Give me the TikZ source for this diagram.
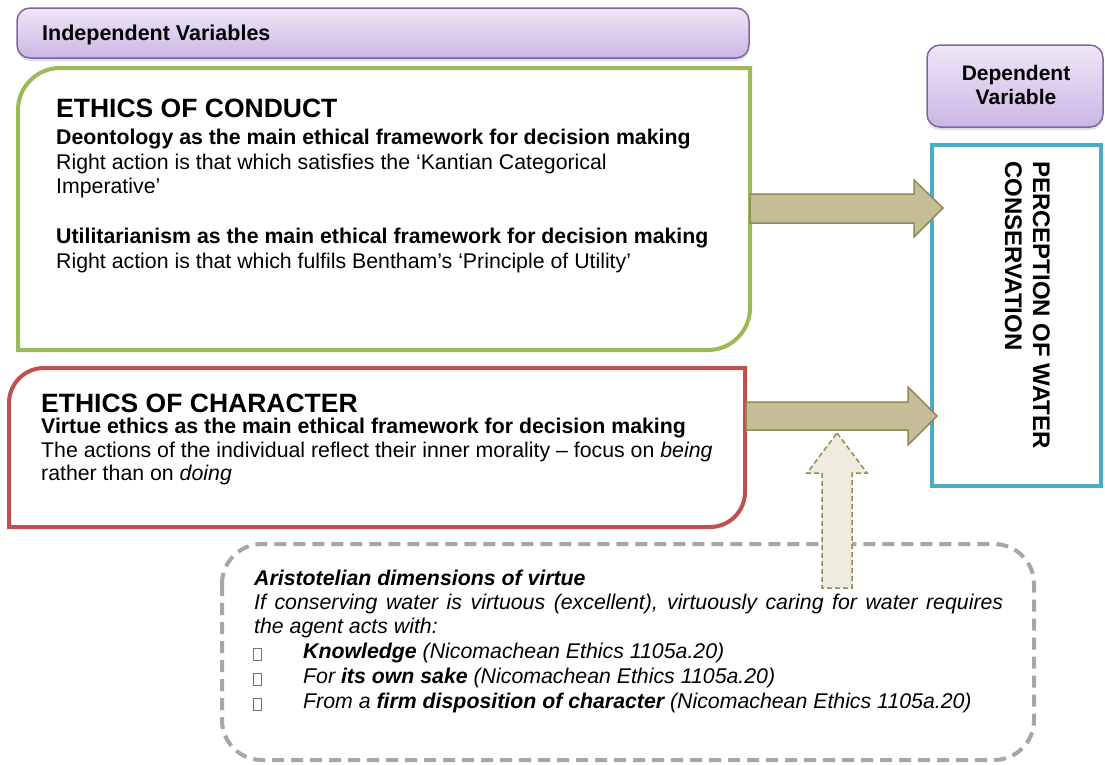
\documentclass[tikz,border=0pt]{standalone}
\usepackage{fontspec}
\setmainfont{Liberation Sans}
\usetikzlibrary{shadows,calc}
\definecolor{grn}{HTML}{9BBB59}
\definecolor{rd}{HTML}{C0504D}
\definecolor{bl}{HTML}{4BACC6}
\definecolor{purpB}{HTML}{8064A2}
\definecolor{purpT}{HTML}{EFE7F7}
\definecolor{purpL}{HTML}{CBB6E4}
\definecolor{tanF}{HTML}{C4BD97}
\definecolor{tanD}{HTML}{948A54}
\definecolor{creamF}{HTML}{EEECE1}
\definecolor{dgray}{HTML}{A6A6A6}
\begin{document}
\begin{tikzpicture}[x=1pt,y=-1pt,
  txt/.style={anchor=base west, inner sep=0pt, font=\fontsize{21.3}{25}\selectfont},
  btxt/.style={txt, font=\fontsize{21.3}{25}\selectfont\bfseries},
  itxt/.style={txt, font=\fontsize{21.3}{25}\selectfont\itshape},
  headtxt/.style={anchor=base west, inner sep=0pt, font=\fontsize{26.5}{30}\selectfont\bfseries},
  lbltxt/.style={inner sep=0pt, font=\fontsize{21}{25}\selectfont\bfseries},
  rottxt/.style={anchor=base west, inner sep=0pt, rotate=-90, font=\fontsize{24}{28}\selectfont\bfseries},
  labelbox/.style={draw=purpB, line width=1.5pt, rounded corners=13pt, top color=purpT, bottom color=purpL,
    drop shadow={opacity=0.25, shadow xshift=0pt, shadow yshift=-3pt}},
  blockarrow/.style={fill=tanF, draw=tanD, line width=1.5pt, line join=miter},
  dasharrow/.style={fill=creamF, draw=tanD, line width=1.5pt, line join=miter, dash pattern=on 5pt off 3pt},
  bulletbox/.style={draw=black!55, line width=0.7pt, minimum width=8pt, minimum height=12pt, inner sep=0pt}
]
\useasboundingbox[fill=white] (0,0) rectangle (1105,764);

% label boxes
\draw[labelbox] (17,8) rectangle (749,58);
\node[lbltxt, anchor=base west, font=\fontsize{21.5}{25}\selectfont\bfseries] (indep) at (42,40) {Independent Variables};
\draw[labelbox] (927,45) rectangle (1103,127);
\node[lbltxt, anchor=base] (dep1) at (1016,80) {Dependent};
\node[lbltxt, anchor=base] (dep2) at (1016,104) {Variable};

% dashed box
\draw[dgray, line width=4pt, dash pattern=on 12pt off 7pt, rounded corners=40pt] (222,544) rectangle (1034,760);

% green box
\draw[grn, line width=4pt] (18,350) -- (18,110) arc[start angle=180, end angle=270, radius=42]
  -- (750,68) -- (750,308) arc[start angle=0, end angle=90, radius=42] -- cycle;
\coordinate (gE) at (750,208);

% red box
\draw[rd, line width=4pt] (9,527) -- (9,403) arc[start angle=180, end angle=270, radius=35]
  -- (745,368) -- (745,492) arc[start angle=0, end angle=90, radius=35] -- cycle;
\coordinate (rE) at (746,416);

% blue box
\draw[bl, line width=4.5pt] (932,145) rectangle (1101,486);
\node[rottxt] (perc1) at (1033,161) {PERCEPTION OF WATER};
\node[rottxt] (perc2) at (1005,161) {CONSERVATION};

% arrows
\draw[blockarrow] ($(gE)+(0,-14)$) -- (914,194) -- (914,180) -- (943,208) -- (914,237) -- (914,223) -- ($(gE)+(0,15)$) -- cycle;
\draw[blockarrow] ($(rE)+(0,-14)$) -- (908,402) -- (908,387) -- (937,416) -- (908,445) -- (908,430) -- ($(rE)+(0,14)$) -- cycle;
\draw[dasharrow] (837,433) -- (867,473) -- (852,473) -- (852,588) -- (822,588) -- (822,473) -- (807,473) -- cycle;

% conduct texts
\node[headtxt] (c0) at (56,117) {ETHICS OF CONDUCT};
\node[btxt] (c1) at (56,144) {Deontology as the main ethical framework for decision making};
\node[txt] (c2) at (56,169) {Right action is that which satisfies the ‘Kantian Categorical};
\node[txt] (c3) at (56,193) {Imperative’};
\node[btxt] (c4) at (56,243) {Utilitarianism as the main ethical framework for decision making};
\node[txt] (c5) at (56,268) {Right action is that which fulfils Bentham’s ‘Principle of Utility’};

% character texts
\node[headtxt] (h0) at (41,412) {ETHICS OF CHARACTER};
\node[btxt] (h1) at (41,433) {Virtue ethics as the main ethical framework for decision making};
\node[txt] (h2) at (41,457) {The actions of the individual reflect their inner morality – focus on \textit{being}};
\node[txt] (h3) at (41,480) {rather than on \textit{doing}};

% virtue texts
\node[itxt] (v0) at (254,585) {\bfseries Aristotelian dimensions of virtue};
\node[itxt] (v1) at (254,609) {\makebox[749pt][s]{If conserving water is virtuous (excellent), virtuously caring for water requires}};
\node[itxt] (v2) at (254,633) {the agent acts with:};
\node[bulletbox] (b1) at (257,654) {};
\node[bulletbox] (b2) at (257,679) {};
\node[bulletbox] (b3) at (257,704) {};
\node[itxt] (v3) at (303,658) {\bfseries Knowledge \mdseries(Nicomachean Ethics 1105a.20)};
\node[itxt] (v4) at (303,683) {For \textbf{its own sake} (Nicomachean Ethics 1105a.20)};
\node[itxt] (v5) at (303,708) {From a \textbf{firm disposition of character} (Nicomachean Ethics 1105a.20)};
\end{tikzpicture}
\end{document}
